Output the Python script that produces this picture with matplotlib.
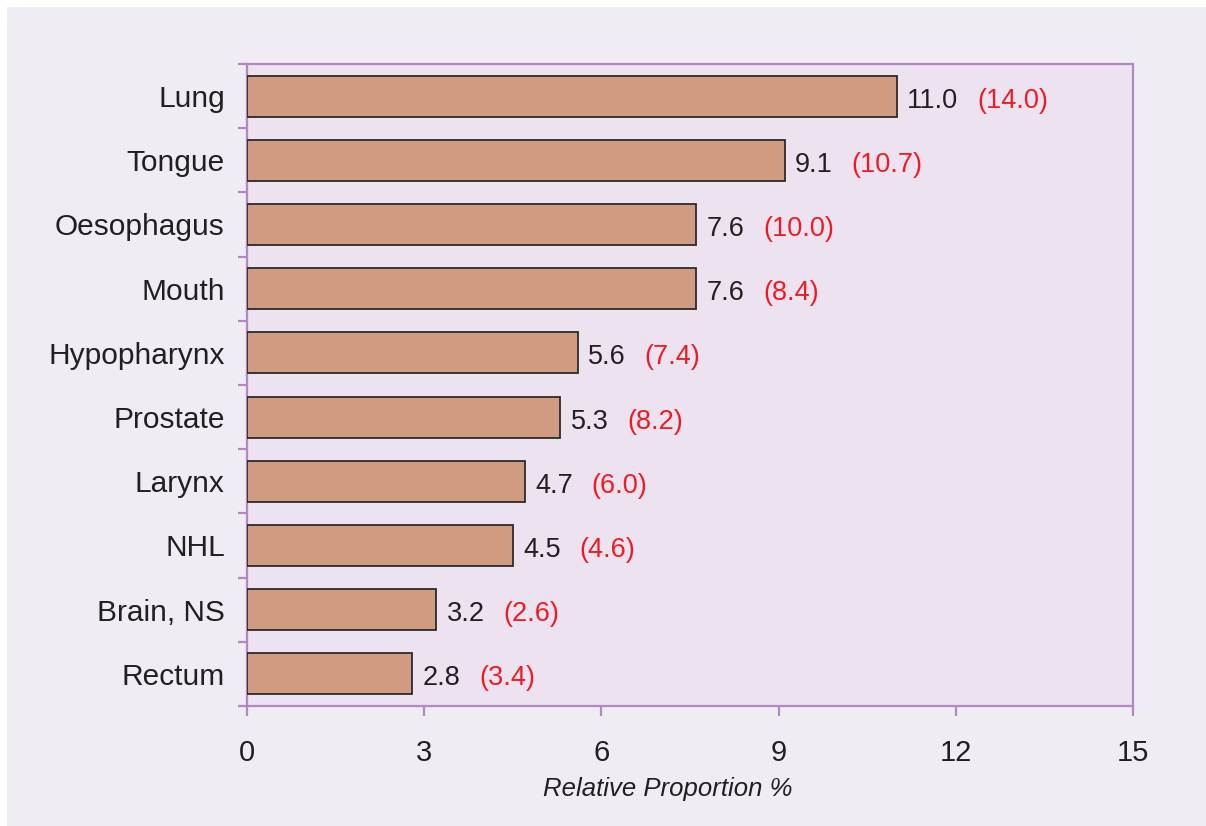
import matplotlib
matplotlib.use("Agg")
import matplotlib.pyplot as plt
from matplotlib.patches import Rectangle
import numpy as np

plt.rcParams['font.family'] = ['Liberation Sans', 'DejaVu Sans']

# Data
sites = ["Lung", "Tongue", "Oesophagus", "Mouth", "Hypopharynx",
         "Prostate", "Larynx", "NHL", "Brain, NS", "Rectum"]
values = [11.0, 9.1, 7.6, 7.6, 5.6, 5.3, 4.7, 4.5, 3.2, 2.8]
bracket_values = [14.0, 10.7, 10.0, 8.4, 7.4, 8.2, 6.0, 4.6, 2.6, 3.4]
x_ticks = [0, 3, 6, 9, 12, 15]
x_label = "Relative Proportion %"

W, H = 1206, 826
fig = plt.figure(figsize=(W / 100, H / 100), dpi=100)
fig.patch.set_facecolor('white')
fig.patches.append(Rectangle((7 / W, 0), 1, 1 - 7 / H, transform=fig.transFigure,
                             facecolor='#f0ecf4', edgecolor='none', zorder=-10))

ax = fig.add_axes([247 / W, 1 - 706 / H, (1133 - 247) / W, (706 - 64) / H])
ax.set_facecolor('#ede2f0')

spine_col = '#b387c4'
text_col = '#231f20'
red_col = '#ed1c24'

y = np.arange(len(sites))
ax.barh(y, values, height=0.64, color='#d09b80', edgecolor='#2b2b2b', linewidth=1.3, zorder=3)

ax.set_xlim(0, 15)
ax.set_ylim(len(sites) - 0.5, -0.5)

for i, (v, r) in enumerate(zip(values, bracket_values)):
    t = ax.annotate(f"{v:.1f}", xy=(v, i), xytext=(7.5, -8.3), textcoords='offset points',
                    va='baseline', ha='left', fontsize=19.5, color=text_col, zorder=4)
    ax.annotate(f"({r:.1f})", xy=(1, 0), xycoords=t, xytext=(13.5, 0),
                textcoords='offset points', va='bottom', ha='left',
                fontsize=19.5, color=red_col, zorder=4)

# y axis: labels at centers, ticks at boundaries
ax.set_yticks(y)
ax.set_yticklabels(sites, fontsize=21.5, color=text_col)
ax.tick_params(axis='y', which='major', length=0, pad=16)
ax.set_yticks(np.arange(len(sites) + 1) - 0.5, minor=True)
ax.tick_params(axis='y', which='minor', length=6.5, width=1.6, color=spine_col, direction='out')

ax.set_xticks(x_ticks)
ax.set_xticklabels([str(t) for t in x_ticks], fontsize=21, color=text_col)
ax.tick_params(axis='x', which='major', length=7, width=1.6, color=spine_col, pad=17)

for s in ax.spines.values():
    s.set_color(spine_col)
    s.set_linewidth(1.6)

fig.text(668 / W, 1 - 789 / H, x_label, ha='center', va='center',
         fontsize=18.5, style='italic', color=text_col)

fig.savefig("out.png", dpi=100, facecolor=fig.get_facecolor())
